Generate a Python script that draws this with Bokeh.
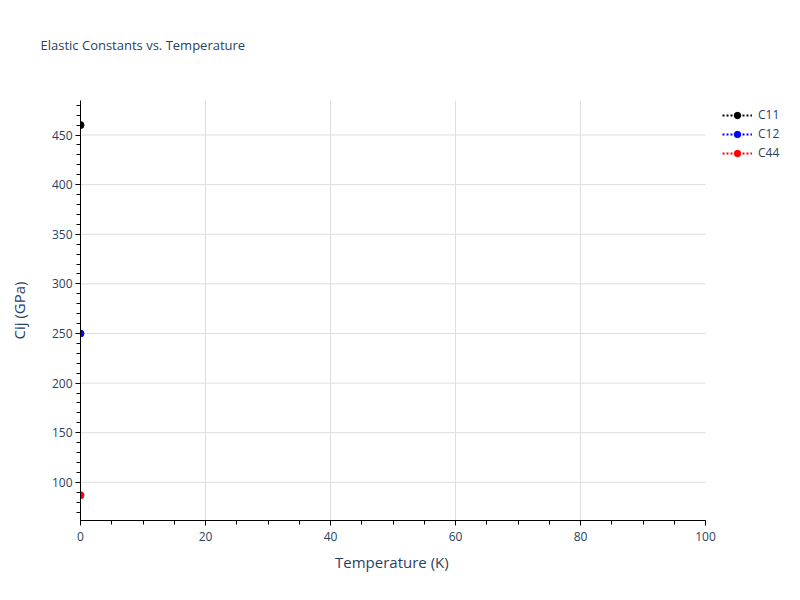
from bokeh.plotting import figure
from bokeh.models import (ColumnDataSource, Legend, LegendItem, SingleIntervalTicker, FixedTicker,
                          Range1d, Title)
from bokeh.embed import file_html
from bokeh.resources import INLINE

# data
temperature = [0]
c11 = [460]
c12 = [250]
c44 = [87]

series_names = ["C11", "C12", "C44"]
series_colors = ["black", "blue", "red"]

x_grid_ticks = [20, 40, 60, 80]
y_grid_ticks = [100, 150, 200, 250, 300, 350, 400, 450]

text_color = "#2a3f5f"
font = "Open Sans"

W, H = 792, 584
left, right_edge = 80, 705          # where x = 0 and x = 100 land
x_end = 100 * (W - left) / (right_edge - left)   # frame runs on to the right edge so the legend is not clipped

p = figure(width=W, height=H, output_backend="svg", toolbar_location=None,
           x_range=Range1d(0, x_end), y_range=Range1d(61.5, 484.8),
           min_border_left=left, min_border_right=0, min_border_top=100, min_border_bottom=64)
p.outline_line_color = None
p.background_fill_color = "white"

# trailing newline gives the title box an empty second line, lifting the text
p.title = Title(text="Elastic Constants vs. Temperature\n", text_font=font, text_font_size="13px",
                text_font_style="normal", text_color=text_color, align="left", offset=-40, standoff=57)

p.xaxis.ticker = SingleIntervalTicker(interval=20, num_minor_ticks=4)
p.xaxis.bounds = (0, 100)
p.yaxis.ticker = SingleIntervalTicker(interval=50, num_minor_ticks=5)
p.yaxis.axis_label = "Cij (GPa)"
for ax in (p.xaxis, p.yaxis):
    ax.axis_line_color = "black"
    ax.axis_line_width = 1
    ax.major_tick_line_color = "black"
    ax.minor_tick_line_color = "black"
    ax.major_tick_in = 0
    ax.minor_tick_in = 0
    ax.major_tick_out = 5
    ax.minor_tick_out = 4
    ax.major_label_text_font = font
    ax.major_label_text_font_size = "12px"
    ax.major_label_text_color = text_color
    ax.axis_label_text_font = font
    ax.axis_label_text_font_size = "15px"
    ax.axis_label_text_font_style = "normal"
    ax.axis_label_text_color = text_color
p.xaxis.major_label_standoff = 6
p.yaxis.major_label_standoff = 3
p.yaxis.axis_label_standoff = 20

grid_color = "#dedede"
p.xgrid.ticker = FixedTicker(ticks=x_grid_ticks)
p.xgrid.grid_line_color = grid_color
p.ygrid.visible = False
n = len(y_grid_ticks)
p.segment(x0=[0] * n, x1=[100] * n, y0=y_grid_ticks, y1=y_grid_ticks, line_color=grid_color, line_width=1)

items = []
for name, vals, color in zip(series_names, [c11, c12, c44], series_colors):
    src = ColumnDataSource(data=dict(x=temperature, y=vals))
    ln = p.line("x", "y", source=src, line_color=color, line_width=2, line_dash="2 2")
    sc = p.scatter("x", "y", source=src, size=7, fill_color=color, line_color=color)
    items.append(LegendItem(label=name, renderers=[ln, sc]))

legend = Legend(items=items, location=(642, 359), padding=0, margin=0, spacing=2,
                glyph_width=30, glyph_height=16, label_height=16, label_standoff=6,
                label_text_font=font, label_text_font_size="12px", label_text_color=text_color,
                border_line_color=None, background_fill_alpha=0)
p.add_layout(legend, "center")

# x axis title as a bottom Title centred under 0..100, not under the wider frame
p.add_layout(Title(text="Temperature (K)", text_font=font, text_font_size="15px",
                   text_font_style="normal", text_color=text_color, align="left",
                   offset=(right_edge - left) / 2 - 58, standoff=13), "below")

open("out.html", "w").write(file_html(p, INLINE))
